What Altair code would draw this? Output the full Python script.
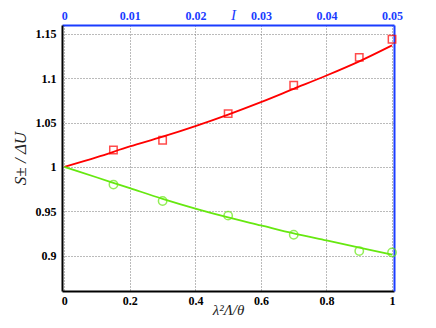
import altair as alt
import pandas as pd

# measured points
x_pts = [0.15, 0.3, 0.5, 0.7, 0.9, 1.0]
red_pts = [1.019, 1.030, 1.060, 1.092, 1.1235, 1.144]
green_pts = [0.980, 0.9615, 0.945, 0.9235, 0.905, 0.9035]

# fitted curves
x_fit = [0.0, 0.1, 0.2, 0.3, 0.4, 0.5, 0.6, 0.7, 0.8, 0.9, 1.0]
red_fit = [1.0, 1.011, 1.023, 1.034, 1.046, 1.059, 1.073, 1.088, 1.103, 1.119, 1.137]
green_fit = [1.0, 0.988, 0.976, 0.964, 0.953, 0.943, 0.934, 0.925, 0.917, 0.909, 0.901]

x_ticks = [0, 0.2, 0.4, 0.6, 0.8, 1.0]
y_ticks = [0.9, 0.95, 1.0, 1.05, 1.1, 1.15]
i_ticks = [0, 0.01, 0.02, 0.03, 0.04, 0.05]

xdom = [-0.007, 1.006]
ydom = [0.86, 1.16]
idom = [xdom[0] * 0.05, xdom[1] * 0.05]

pts = pd.DataFrame({"x": x_pts, "red": red_pts, "green": green_pts})
fit = pd.DataFrame({"x": x_fit, "red": red_fit, "green": green_fit})
top = pd.DataFrame({"I": i_ticks, "y": [1.0] * len(i_ticks)})

FONT = "Liberation Serif"
BLUE = "#1a3cff"
font_kw = dict(labelFont=FONT, labelFontWeight="bold", labelFontSize=12,
               titleFont=FONT, titleFontStyle="italic", titleFontWeight="normal",
               titleFontSize=17)

xs = alt.Scale(domain=xdom, nice=False, zero=False)
ys = alt.Scale(domain=ydom, nice=False, zero=False)

x_axis = alt.Axis(values=x_ticks, format="~g", title="λ²Λ/θ", grid=True,
                  gridDash=[1, 2], gridColor="#777777", gridWidth=1,
                  domainColor="black", domainWidth=2, ticks=False,
                  labelPadding=4, titleY=23, titleBaseline="alphabetic",
                  labelColor="black", titleColor="#222222",
                  **{**font_kw, "titleFontSize": 15})
y_axis = alt.Axis(values=y_ticks, format="~g", title="S± / ΔU", grid=True,
                  gridDash=[1, 2], gridColor="#777777", gridWidth=1,
                  domainColor="black", domainWidth=2, ticks=False,
                  labelPadding=6, titlePadding=6, labelColor="black",
                  titleColor="#222222", **font_kw)

base_fit = alt.Chart(fit)
red_line = base_fit.mark_line(color="#ff0000", strokeWidth=1.8, interpolate="monotone").encode(
    x=alt.X("x:Q", scale=xs, axis=x_axis), y=alt.Y("red:Q", scale=ys, axis=y_axis))
green_line = base_fit.mark_line(color="#66e810", strokeWidth=1.8, interpolate="monotone").encode(
    x=alt.X("x:Q", scale=xs, axis=x_axis), y=alt.Y("green:Q", scale=ys, axis=y_axis))

base_pts = alt.Chart(pts)
red_sq = base_pts.mark_point(shape="square", filled=False, color="#ff0000", size=55, strokeWidth=1.5).encode(
    x=alt.X("x:Q", scale=xs, axis=x_axis), y=alt.Y("red:Q", scale=ys, axis=y_axis))
green_ci = base_pts.mark_point(shape="circle", filled=False, color="#66e810", size=70, strokeWidth=1.5).encode(
    x=alt.X("x:Q", scale=xs, axis=x_axis), y=alt.Y("green:Q", scale=ys, axis=y_axis))

main = alt.layer(red_line, green_line, red_sq, green_ci)

top_layer = alt.Chart(top).mark_point(opacity=0).encode(
    x=alt.X("I:Q", scale=alt.Scale(domain=idom, nice=False, zero=False),
            axis=alt.Axis(orient="top", values=i_ticks, format="~g", title="I",
                          grid=False, ticks=False, domainColor=BLUE, domainWidth=2,
                          labelColor=BLUE, titleColor=BLUE, labelPadding=3,
                          titleX=171, titleY=-6, titleBaseline="alphabetic",
                          **{**font_kw, "titleFontSize": 15})),
    y=alt.Y("y:Q", scale=ys, axis=None))

right_layer = alt.Chart(top).mark_point(opacity=0).encode(
    x=alt.X("I:Q", scale=alt.Scale(domain=idom, nice=False, zero=False), axis=None),
    y=alt.Y("y:Q", scale=ys,
            axis=alt.Axis(orient="right", labels=False, ticks=False, grid=False, title=None,
                          domainColor=BLUE, domainWidth=2)))

chart = alt.layer(main, top_layer, right_layer).resolve_scale(
    x="independent", y="independent"
).properties(
    width=332, height=266,
    autosize=alt.AutoSizeParams(type="none"),
    padding={"left": 54, "top": 17, "right": 30, "bottom": 29},
).configure_view(stroke=None)

chart.save("out.html", embed_options={"renderer": "svg", "actions": False})
